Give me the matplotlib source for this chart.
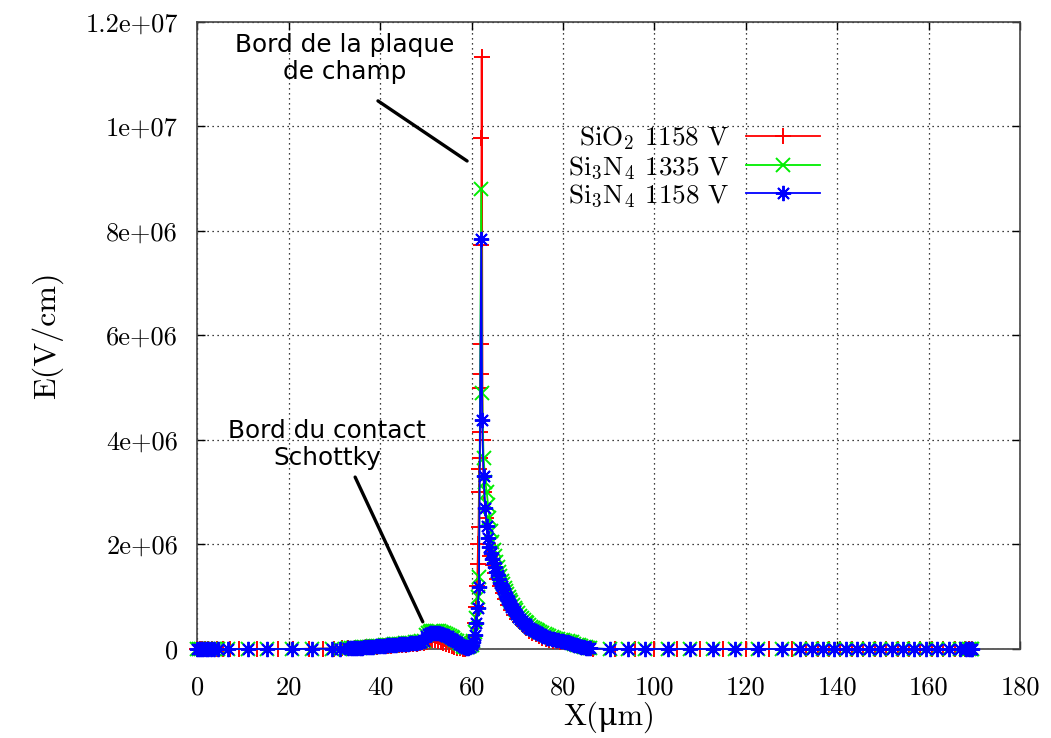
import matplotlib
matplotlib.use("Agg")
import matplotlib.pyplot as plt
import numpy as np

plt.rcParams['mathtext.fontset'] = 'cm'
plt.rcParams['font.family'] = ['cmr10', 'DejaVu Serif']
plt.rcParams['axes.formatter.use_mathtext'] = True

# ---------------- data (E in 1e6 V/cm) ----------------
# --- Si3N4 mesh, split by region ---
xn_left = [0.0, 0.4, 0.8, 1.3, 1.8, 2.4, 3.0, 3.7, 4.5, 6.7, 11.0, 15.2, 20.7,
           25.1, 29.4, 31.2, 33.0]
xn_slope = [33.5, 34.0, 34.5, 35.0, 35.5, 36.0, 36.5, 37.0, 37.5, 38.0, 38.5,
            39.0, 39.5, 40.0, 40.5, 41.0, 41.5, 42.0, 42.5, 43.0, 43.5, 44.0,
            44.5, 45.0, 45.5, 46.0, 46.5, 47.0, 47.5, 48.0, 48.5, 49.0, 49.5]
xn_bump = [50.0, 50.4, 50.8, 51.2, 51.6, 52.0, 52.4, 52.8, 53.2, 53.6, 54.0,
           54.4, 54.8, 55.2, 55.6, 56.0, 56.4, 56.8, 57.2, 57.6, 58.0, 58.4,
           58.8, 59.2, 59.6, 60.0, 60.3, 60.7, 61.0, 61.3, 61.6]
xn_peak = [62.1, 62.3, 62.6]
xn_tail = [63.0, 63.3, 63.6, 63.9, 64.2, 64.5, 64.8, 65.1, 65.4, 65.7, 66.0,
           66.3, 66.6, 66.9, 67.2, 67.5, 67.8, 68.1, 68.4, 68.7, 69.0, 69.4,
           69.8, 70.2, 70.6, 71.0, 71.4, 71.8, 72.2, 72.6, 73.0, 73.4, 73.8,
           74.2, 74.6, 75.0, 75.5, 76.0, 76.5, 77.0, 77.5, 78.0, 78.5, 79.0,
           79.5, 80.0, 80.5, 81.0, 81.5, 82.0, 82.5, 83.0, 83.5, 84.0, 84.5,
           85.0, 85.5, 86.0]
xn_right = [90.3, 94.2, 97.9, 103.0, 107.8, 112.8, 117.6, 122.6, 127.9,
            131.9, 134.4, 136.9, 139.4, 141.9, 144.4, 146.9, 149.4, 151.9,
            154.4, 156.9, 159.4, 161.9, 164.4, 166.9, 168.2, 168.8, 169.2, 169.5]

eb_left = [0, 0, 0, 0, 0, 0, 0, 0, 0, 0, 0, 0, 0, 0.003, 0.006, 0.008, 0.01]
eb_slope = [0.012, 0.015, 0.018, 0.021, 0.024, 0.027, 0.03, 0.034, 0.037,
            0.041, 0.045, 0.049, 0.053, 0.057, 0.061, 0.065, 0.069, 0.073,
            0.077, 0.081, 0.085, 0.089, 0.093, 0.097, 0.101, 0.105, 0.109,
            0.114, 0.119, 0.124, 0.13, 0.137, 0.15]
eb_bump = [0.24, 0.28, 0.30, 0.31, 0.315, 0.315, 0.31, 0.305, 0.295, 0.285,
           0.27, 0.255, 0.24, 0.22, 0.2, 0.18, 0.155, 0.13, 0.1, 0.075, 0.05,
           0.035, 0.025, 0.025, 0.04, 0.07, 0.13, 0.27, 0.5, 0.78, 1.19]
eb_peak = [7.85, 4.38, 3.31]
eb_tail = [2.7, 2.35, 2.12, 1.95, 1.83, 1.73, 1.64, 1.56, 1.48, 1.41, 1.34,
           1.27, 1.2, 1.14, 1.08, 1.02, 0.96, 0.91, 0.86, 0.81, 0.77, 0.72,
           0.67, 0.62, 0.58, 0.54, 0.50, 0.47, 0.44, 0.41, 0.38, 0.36, 0.34,
           0.32, 0.30, 0.28, 0.26, 0.24, 0.22, 0.21, 0.195, 0.185, 0.175,
           0.165, 0.155, 0.145, 0.135, 0.125, 0.115, 0.10, 0.085, 0.07, 0.055,
           0.045, 0.035, 0.025, 0.015, 0.01]
eb_right = [0] * 28

eg_left = [0, 0, 0, 0, 0, 0, 0, 0, 0, 0, 0, 0, 0, 0.003, 0.007, 0.009, 0.011]
eg_slope = [0.013, 0.016, 0.019, 0.023, 0.026, 0.029, 0.033, 0.037, 0.04,
            0.044, 0.049, 0.053, 0.057, 0.062, 0.066, 0.07, 0.075, 0.079,
            0.083, 0.088, 0.092, 0.096, 0.1, 0.105, 0.109, 0.113, 0.118,
            0.123, 0.129, 0.134, 0.14, 0.148, 0.162]
eg_bump = [0.27, 0.31, 0.33, 0.34, 0.345, 0.345, 0.34, 0.335, 0.325, 0.315,
           0.30, 0.285, 0.27, 0.25, 0.23, 0.205, 0.18, 0.15, 0.12, 0.09, 0.065,
           0.045, 0.035, 0.035, 0.05, 0.085, 0.15, 0.32, 0.6, 1.0, 1.38]
eg_peak = [8.8, 4.9, 3.66]
eg_tail = [3.2, 3.0, 2.75, 2.5, 2.25, 2.05, 1.9, 1.78, 1.66, 1.56, 1.47, 1.39,
           1.31, 1.24, 1.17, 1.11, 1.05, 0.99, 0.94, 0.89, 0.84, 0.79, 0.74,
           0.69, 0.64, 0.6, 0.56, 0.52, 0.49, 0.46, 0.43, 0.4, 0.38, 0.36,
           0.34, 0.32, 0.3, 0.28, 0.26, 0.24, 0.225, 0.21, 0.2, 0.19, 0.18,
           0.17, 0.16, 0.15, 0.14, 0.125, 0.105, 0.085, 0.07, 0.055, 0.045,
           0.035, 0.02, 0.012]
eg_right = [0] * 28

# --- SiO2 mesh ---
x_r = [0.0, 0.5, 1.0, 1.6, 2.3, 3.2, 4.2, 5.5, 7.2, 9.1, 13.0, 17.6, 20.9, 24.3,
       27.5, 29.8, 31.6, 33.0,
       34.4, 35.2, 36.0, 36.8, 37.6, 38.4, 39.2, 40.0, 40.8, 41.6, 42.4, 43.2,
       44.0, 44.8, 45.6, 46.4, 47.2, 48.0, 48.8, 49.5,
       50.2, 50.8, 51.4, 52.0, 52.6, 53.2, 53.8, 54.4, 55.0, 55.6, 56.2, 56.8,
       57.4, 58.0, 58.6, 59.2, 59.7, 60.1, 60.5, 60.8, 61.0, 61.2, 61.3, 61.4,
       61.5, 61.6, 61.7, 61.8, 61.85, 61.9, 61.95, 62.0, 62.1, 62.15, 62.2,
       62.4, 62.7, 63.1, 63.6, 64.1, 64.6, 65.1, 65.6, 66.2, 66.8, 67.4, 68.0,
       68.6, 69.3, 69.9, 70.5, 71.2, 71.9, 72.6, 73.3, 74.0, 74.7, 75.4, 76.2,
       77.0, 77.8, 78.6, 79.4, 80.2, 81.0, 81.8, 82.6, 83.4, 84.2, 85.0, 85.8,
       86.5, 91.3, 95.7, 100.0, 105.0, 110.0, 115.0, 120.0, 125.0, 130.0,
       133.2, 135.7, 138.2, 140.7, 143.2, 145.7, 148.2, 150.7, 153.2, 155.7,
       158.2, 160.7, 163.2, 165.7, 168.0, 168.9, 169.5]

e_red = [0, 0, 0, 0, 0, 0, 0, 0, 0, 0, 0, 0, 0, 0.003,
         0.006, 0.008, 0.01, 0.012,
         0.016, 0.02, 0.025, 0.03, 0.035, 0.04, 0.045, 0.05, 0.055, 0.06, 0.065, 0.07,
         0.075, 0.08, 0.085, 0.09, 0.095, 0.1, 0.11, 0.12,
         0.14, 0.16, 0.17, 0.17, 0.16, 0.14, 0.12, 0.10, 0.08, 0.06, 0.04, 0.02,
         0.01, 0.0, 0.0, 0.01, 0.05, 0.12, 0.25, 0.5, 0.8, 1.2, 1.63, 2.0,
         2.33, 3.0, 3.44, 3.66, 4.15, 5.0, 5.26, 5.84, 7.73, 9.78, 11.33,
         4.0, 3.0, 2.5, 2.0, 1.78, 1.6, 1.46, 1.34, 1.2, 1.07, 0.95, 0.84,
         0.74, 0.65, 0.57, 0.51, 0.45, 0.40, 0.35, 0.31, 0.28, 0.25, 0.22, 0.20,
         0.18, 0.16, 0.15, 0.14, 0.13, 0.11, 0.09, 0.07, 0.05, 0.035, 0.02, 0.01,
         0, 0, 0, 0, 0, 0, 0, 0, 0, 0,
         0, 0, 0, 0, 0, 0, 0, 0, 0, 0,
         0, 0, 0, 0, 0, 0, 0]

labels = [r'SiO$_2$ 1158 V', r'Si$_3$N$_4$ 1335 V', r'Si$_3$N$_4$ 1158 V']
x_ticks = [0, 20, 40, 60, 80, 100, 120, 140, 160, 180]
y_ticks = [0, 2e6, 4e6, 6e6, 8e6, 1e7, 1.2e7]
y_ticklabels = ['0', '2e+06', '4e+06', '6e+06', '8e+06', '1e+07', '1.2e+07']

x_n = xn_left + xn_slope + xn_bump + xn_peak + xn_tail + xn_right
e_blue = eb_left + eb_slope + eb_bump + eb_peak + eb_tail + eb_right
e_green = eg_left + eg_slope + eg_bump + eg_peak + eg_tail + eg_right

# ---------------- figure ----------------
fig = plt.figure(figsize=(10.51, 7.38), dpi=100)
ax = fig.add_axes([0.1879, 0.1206, 0.7826, 0.8496])

star = (8, 2, 0)
ax.plot(x_r, np.array(e_red) * 1e6, color='#ff0000', lw=1.3, marker='+',
        ms=11, mew=1.4, label=labels[0], clip_on=False, zorder=3)
ax.plot(x_n, np.array(e_green) * 1e6, color='#00ee00', lw=1.3, marker='x',
        ms=9.5, mew=1.4, label=labels[1], clip_on=False, zorder=3)
ax.plot(x_n, np.array(e_blue) * 1e6, color='#0000ff', lw=1.3, marker=star,
        ms=11, mew=1.4, label=labels[2], clip_on=False, zorder=3)

ax.set_xlim(0, 180)
ax.set_ylim(0, 1.2e7)
ax.set_xticks(x_ticks)
ax.set_xticklabels([str(t) for t in x_ticks])
ax.set_yticks(y_ticks)
ax.set_yticklabels(y_ticklabels)
ax.tick_params(direction='in', top=True, right=True, length=6, width=1,
               labelsize=19)
ax.tick_params(axis='y', pad=14)
ax.tick_params(axis='x', pad=19)
ax.grid(True, linestyle=(0, (1, 3)), color='black', lw=0.9)
for s in ax.spines.values():
    s.set_linewidth(1.2)
    s.set_color('#444444')

ax.set_xlabel('X(μm)', fontsize=22)
ax.xaxis.set_label_coords(0.5, -0.083)
ax.set_ylabel('E(V/cm)', fontsize=23, labelpad=16)

leg = ax.legend(loc='upper right', bbox_to_anchor=(0.757, 0.836), frameon=False,
                markerfirst=False, handlelength=2.75, handletextpad=0.6,
                labelspacing=0.05, borderpad=0, borderaxespad=0, fontsize=19.5)

# annotations
ax.annotate('', xy=(59.0, 9.34e6), xytext=(39.5, 10.49e6),
            arrowprops=dict(arrowstyle='-', lw=2.4, color='black',
                            shrinkA=0, shrinkB=0))
ax.text(32.3, 11.3e6, 'Bord de la plaque\nde champ', ha='center', va='center',
        fontsize=17.8, family='DejaVu Sans', linespacing=1.15)
ax.annotate('', xy=(49.3, 0.52e6), xytext=(34.5, 3.29e6),
            arrowprops=dict(arrowstyle='-', lw=2.4, color='black',
                            shrinkA=0, shrinkB=0))
ax.text(28.3, 3.92e6, 'Bord du contact\nSchottky', ha='center', va='center',
        fontsize=17.8, family='DejaVu Sans', linespacing=1.15)

fig.savefig('out.png', dpi=100)
